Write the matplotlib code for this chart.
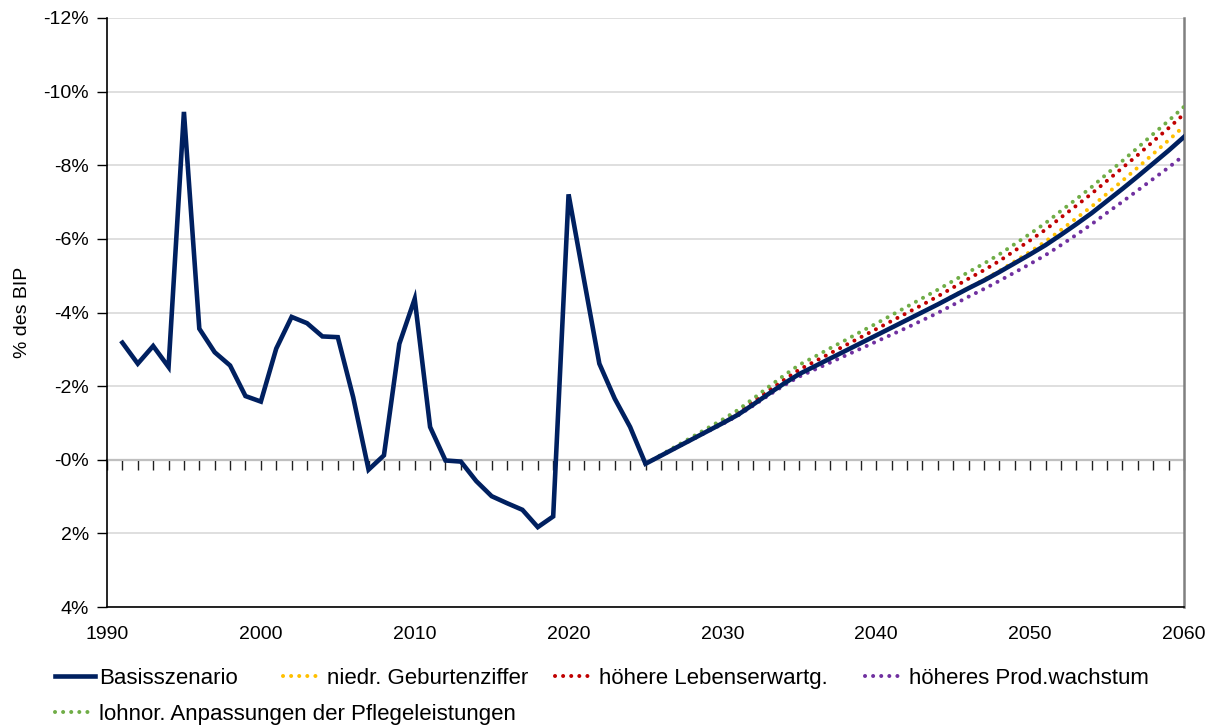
import matplotlib
matplotlib.use("Agg")
import matplotlib.pyplot as plt
from matplotlib.lines import Line2D
from matplotlib.ticker import MultipleLocator

plt.rcParams['font.family'] = ['Liberation Sans', 'DejaVu Sans']

# Basisszenario: Ist-Werte 1991-2024 und Projektion bis 2060 (% des BIP)
jahre_basis = list(range(1991, 2061))
basis = [-3.18, -2.61, -3.09, -2.52, -9.45, -3.56, -2.92, -2.56, -1.73, -1.58,
         -3.02, -3.88, -3.71, -3.35, -3.33, -1.70, 0.27, -0.12, -3.15, -4.37,
         -0.89, 0.02, 0.05, 0.58, 0.99, 1.18, 1.36, 1.83, 1.54, -7.21,
         -4.90, -2.61, -1.66, -0.89, 0.11, -0.11, -0.33, -0.55, -0.77, -0.99,
         -1.22, -1.50, -1.79, -2.07, -2.33, -2.54, -2.75, -2.96, -3.17, -3.38,
         -3.59, -3.80, -4.01, -4.22, -4.44, -4.66, -4.87, -5.10, -5.34, -5.58,
         -5.83, -6.11, -6.40, -6.70, -7.03, -7.36, -7.70, -8.05, -8.40, -8.77]

# Szenarien ab 2025
jahre_szen = list(range(2025, 2061))
geburten = [0.11, -0.11, -0.33, -0.55, -0.77, -0.99, -1.22, -1.50, -1.79, -2.07,
            -2.33, -2.54, -2.75, -2.96, -3.17, -3.38, -3.59, -3.80, -4.01, -4.22,
            -4.45, -4.67, -4.89, -5.13, -5.39, -5.65, -5.93, -6.24, -6.56, -6.88,
            -7.23, -7.58, -7.94, -8.31, -8.68, -9.06]
lebenserw = [0.11, -0.12, -0.35, -0.58, -0.81, -1.04, -1.28, -1.58, -1.88, -2.17,
             -2.45, -2.67, -2.89, -3.11, -3.33, -3.55, -3.77, -3.99, -4.21, -4.44,
             -4.68, -4.92, -5.15, -5.40, -5.68, -5.96, -6.25, -6.58, -6.90, -7.23,
             -7.58, -7.93, -8.28, -8.65, -9.01, -9.39]
prodwachs = [0.11, -0.11, -0.33, -0.54, -0.76, -0.97, -1.20, -1.47, -1.75, -2.02,
             -2.26, -2.45, -2.64, -2.83, -3.02, -3.21, -3.40, -3.59, -3.79, -3.99,
             -4.21, -4.43, -4.64, -4.86, -5.09, -5.32, -5.56, -5.83, -6.11, -6.40,
             -6.71, -7.01, -7.32, -7.63, -7.94, -8.27]
pflege = [0.11, -0.13, -0.37, -0.61, -0.85, -1.09, -1.35, -1.66, -1.98, -2.29,
          -2.58, -2.80, -3.03, -3.25, -3.48, -3.70, -3.93, -4.16, -4.39, -4.62,
          -4.86, -5.10, -5.33, -5.58, -5.86, -6.14, -6.43, -6.76, -7.08, -7.41,
          -7.77, -8.12, -8.48, -8.85, -9.21, -9.59]

y_ticks = [-12, -10, -8, -6, -4, -2, 0, 2, 4]
y_labels = ["-12%", "-10%", "-8%", "-6%", "-4%", "-2%", "-0%", "2%", "4%"]
x_ticks = [1990, 2000, 2010, 2020, 2030, 2040, 2050, 2060]

navy = '#002060'
fs = 14
fs_leg = 16

fig = plt.figure(figsize=(12.18, 7.27), dpi=100)
ax = fig.add_axes([107/1218, 1-607/727, 1077/1218, 589/727])

dot = (0, (0.01, 2.0))
szen = [
    (geburten, '#FFC000', 'niedr. Geburtenziffer'),
    (lebenserw, '#C00000', 'höhere Lebenserwartg.'),
    (prodwachs, '#7030A0', 'höheres Prod.wachstum'),
    (pflege, '#70AD47', 'lohnor. Anpassungen der Pflegeleistungen'),
]
for werte, farbe, name in szen:
    ax.plot(jahre_szen, werte, color=farbe, lw=2.9, linestyle=dot,
            dash_capstyle='round', zorder=3)
ax.plot(jahre_basis, basis, color=navy, lw=3.3, zorder=4,
        solid_joinstyle='miter')

ax.set_xlim(1990, 2060)
ax.set_ylim(4, -12)
ax.set_yticks(y_ticks, y_labels)
ax.set_xticks(x_ticks)
ax.tick_params(axis='x', length=0, pad=14, labelsize=fs)
ax.tick_params(axis='y', length=7, width=1, pad=6, labelsize=fs)
ax.yaxis.grid(True, color='#D9D9D9', lw=1.2)
ax.set_axisbelow(True)
ax.set_ylabel('% des BIP', fontsize=fs, labelpad=9)

ax.spines['top'].set_visible(False)
ax.spines['right'].set_color('#808080')
ax.spines['right'].set_linewidth(1.8)
ax.spines['left'].set_linewidth(1.2)
ax.spines['bottom'].set_linewidth(1.2)

# Nulllinie mit Jahresmarken
null = ax.secondary_xaxis(0.25)
null.spines['bottom'].set_color('#404040')
null.spines['bottom'].set_linewidth(1.5)
null.xaxis.set_major_locator(MultipleLocator(1))
null.tick_params(axis='x', length=7, width=1, direction='out', labelbottom=False,
                 color='#202020')

griffe = [Line2D([], [], color=navy, lw=3.3)]
for werte, farbe, name in szen:
    griffe.append(Line2D([], [], color=farbe, lw=2.9, linestyle=dot,
                         dash_capstyle='round'))
namen = ['Basisszenario'] + [s[2] for s in szen]

# Legende: ein Eintrag je Legende, damit die Abstände wie im Original sind
leg_x = [55, 283, 555, 865, 55]
leg_y = [668, 668, 668, 668, 704]
for g, n, lx, ly in zip(griffe, namen, leg_x, leg_y):
    fig.legend([g], [n], loc='upper left',
               bbox_to_anchor=(lx/1218, 1-ly/727), frameon=False,
               fontsize=fs_leg, handlelength=1.8, handletextpad=0.18,
               borderpad=0, borderaxespad=0)

fig.savefig('out.png', dpi=100)
